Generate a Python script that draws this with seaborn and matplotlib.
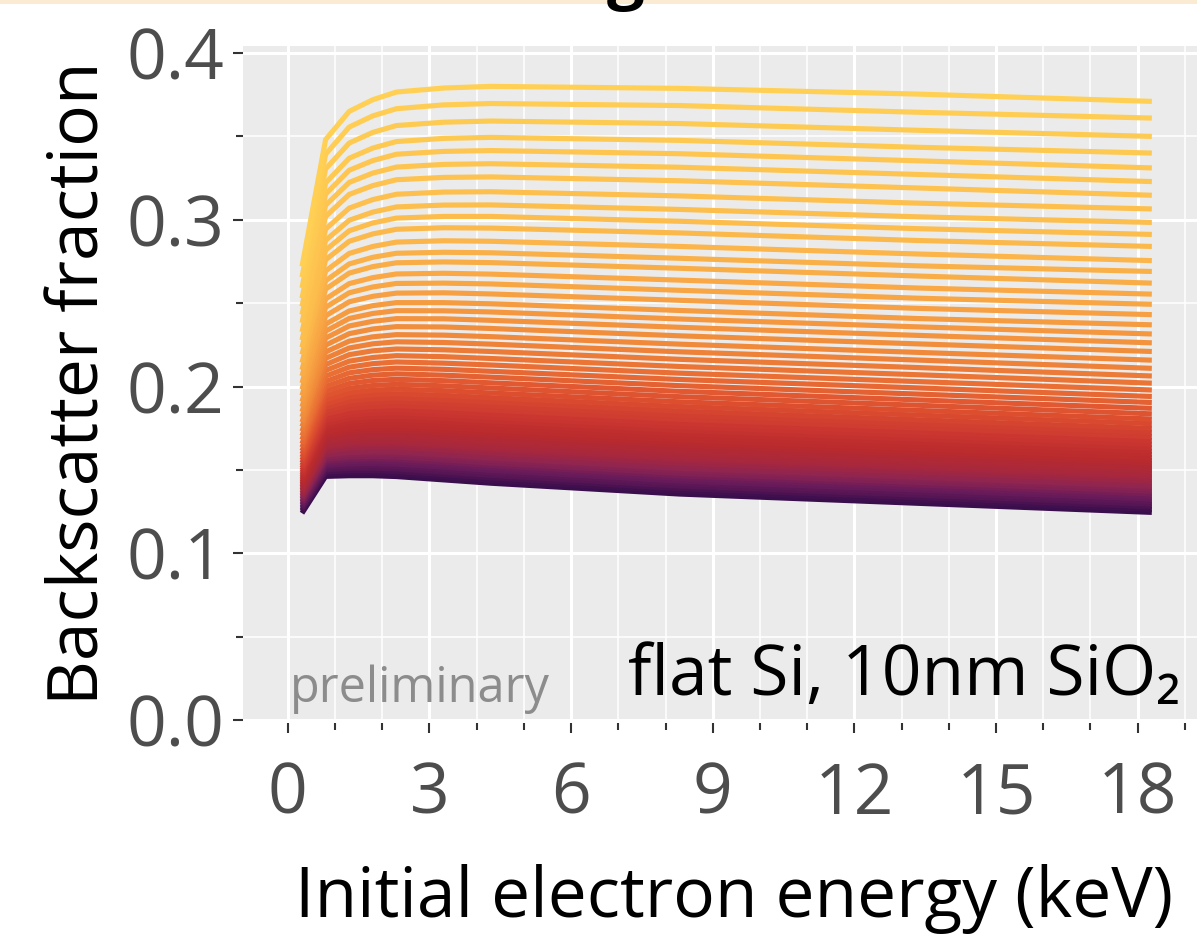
import matplotlib
matplotlib.use("Agg")
import matplotlib.pyplot as plt
from matplotlib.colors import LinearSegmentedColormap
from matplotlib.patches import Rectangle
from matplotlib.ticker import MultipleLocator, FormatStrFormatter
import pandas as pd
import seaborn as sns

energies_kev = [0.3, 0.8, 1.3, 1.8, 2.3, 3.3, 4.3, 8.3, 13.3, 18.3]

# backscatter fraction per curve at each energy, top curve first
eta_0p3 = [0.2720, 0.2656, 0.2591, 0.2529, 0.2480, 0.2431, 0.2382, 0.2327, 0.2278, 0.2235,
           0.2192, 0.2143, 0.2100, 0.2063, 0.2020, 0.1983, 0.1946, 0.1909, 0.1878, 0.1848,
           0.1817, 0.1786, 0.1759, 0.1731, 0.1705, 0.1681, 0.1657, 0.1635, 0.1614, 0.1595,
           0.1576, 0.1559, 0.1543, 0.1527, 0.1512, 0.1498, 0.1485, 0.1472, 0.1460, 0.1448,
           0.1437, 0.1426, 0.1417, 0.1407, 0.1398, 0.1389, 0.1380, 0.1371, 0.1361, 0.1352,
           0.1343, 0.1334, 0.1325, 0.1315, 0.1306, 0.1297, 0.1288, 0.1278, 0.1269, 0.1260,
           0.1251, 0.1240]
eta_0p8 = [0.3481, 0.3393, 0.3305, 0.3221, 0.3154, 0.3087, 0.3020, 0.2944, 0.2877, 0.2818,
           0.2760, 0.2693, 0.2634, 0.2584, 0.2525, 0.2475, 0.2424, 0.2374, 0.2332, 0.2290,
           0.2248, 0.2207, 0.2169, 0.2131, 0.2096, 0.2062, 0.2030, 0.2000, 0.1972, 0.1945,
           0.1920, 0.1896, 0.1874, 0.1853, 0.1833, 0.1813, 0.1795, 0.1777, 0.1761, 0.1745,
           0.1730, 0.1715, 0.1702, 0.1689, 0.1677, 0.1664, 0.1652, 0.1639, 0.1626, 0.1614,
           0.1601, 0.1589, 0.1576, 0.1564, 0.1551, 0.1538, 0.1526, 0.1513, 0.1501, 0.1488,
           0.1476, 0.1461]
eta_1p3 = [0.3650, 0.3556, 0.3460, 0.3369, 0.3297, 0.3224, 0.3152, 0.3070, 0.2997, 0.2934,
           0.2871, 0.2798, 0.2735, 0.2680, 0.2617, 0.2562, 0.2508, 0.2453, 0.2408, 0.2363,
           0.2317, 0.2272, 0.2231, 0.2191, 0.2152, 0.2116, 0.2082, 0.2049, 0.2018, 0.1989,
           0.1962, 0.1937, 0.1912, 0.1890, 0.1868, 0.1847, 0.1827, 0.1808, 0.1790, 0.1773,
           0.1756, 0.1741, 0.1726, 0.1713, 0.1699, 0.1686, 0.1672, 0.1658, 0.1645, 0.1631,
           0.1618, 0.1604, 0.1590, 0.1577, 0.1563, 0.1550, 0.1536, 0.1522, 0.1509, 0.1495,
           0.1482, 0.1465]
eta_1p8 = [0.3720, 0.3623, 0.3524, 0.3430, 0.3355, 0.3280, 0.3205, 0.3121, 0.3046, 0.2981,
           0.2915, 0.2840, 0.2775, 0.2719, 0.2653, 0.2597, 0.2541, 0.2485, 0.2438, 0.2391,
           0.2345, 0.2298, 0.2256, 0.2214, 0.2174, 0.2137, 0.2101, 0.2068, 0.2036, 0.2006,
           0.1978, 0.1952, 0.1926, 0.1903, 0.1880, 0.1859, 0.1838, 0.1819, 0.1800, 0.1782,
           0.1765, 0.1749, 0.1734, 0.1720, 0.1706, 0.1692, 0.1678, 0.1664, 0.1650, 0.1636,
           0.1622, 0.1608, 0.1594, 0.1580, 0.1566, 0.1552, 0.1538, 0.1524, 0.1510, 0.1496,
           0.1482, 0.1465]
eta_2p3 = [0.3766, 0.3666, 0.3565, 0.3469, 0.3393, 0.3316, 0.3240, 0.3153, 0.3077, 0.3010,
           0.2943, 0.2866, 0.2799, 0.2742, 0.2675, 0.2618, 0.2560, 0.2503, 0.2455, 0.2407,
           0.2359, 0.2311, 0.2268, 0.2225, 0.2185, 0.2147, 0.2110, 0.2076, 0.2043, 0.2013,
           0.1984, 0.1957, 0.1931, 0.1908, 0.1885, 0.1863, 0.1842, 0.1821, 0.1802, 0.1784,
           0.1767, 0.1751, 0.1735, 0.1721, 0.1707, 0.1692, 0.1678, 0.1663, 0.1649, 0.1635,
           0.1620, 0.1606, 0.1592, 0.1577, 0.1563, 0.1549, 0.1534, 0.1520, 0.1506, 0.1491,
           0.1477, 0.1460]
eta_3p3 = [0.3790, 0.3689, 0.3585, 0.3488, 0.3410, 0.3332, 0.3254, 0.3166, 0.3088, 0.3020,
           0.2952, 0.2874, 0.2805, 0.2747, 0.2679, 0.2620, 0.2562, 0.2503, 0.2454, 0.2406,
           0.2357, 0.2308, 0.2264, 0.2220, 0.2179, 0.2140, 0.2103, 0.2068, 0.2035, 0.2004,
           0.1975, 0.1947, 0.1921, 0.1897, 0.1873, 0.1851, 0.1829, 0.1809, 0.1789, 0.1771,
           0.1753, 0.1737, 0.1721, 0.1706, 0.1692, 0.1677, 0.1662, 0.1648, 0.1633, 0.1619,
           0.1604, 0.1589, 0.1575, 0.1560, 0.1545, 0.1531, 0.1516, 0.1502, 0.1487, 0.1472,
           0.1458, 0.1440]
eta_4p3 = [0.3800, 0.3697, 0.3592, 0.3494, 0.3415, 0.3336, 0.3257, 0.3168, 0.3089, 0.3020,
           0.2950, 0.2871, 0.2802, 0.2743, 0.2674, 0.2615, 0.2555, 0.2496, 0.2447, 0.2397,
           0.2348, 0.2299, 0.2254, 0.2210, 0.2168, 0.2129, 0.2091, 0.2056, 0.2022, 0.1991,
           0.1961, 0.1933, 0.1907, 0.1882, 0.1858, 0.1835, 0.1814, 0.1793, 0.1773, 0.1754,
           0.1737, 0.1720, 0.1704, 0.1689, 0.1674, 0.1660, 0.1645, 0.1630, 0.1615, 0.1600,
           0.1586, 0.1571, 0.1556, 0.1541, 0.1526, 0.1512, 0.1497, 0.1482, 0.1467, 0.1452,
           0.1437, 0.1420]
eta_8p3 = [0.3788, 0.3685, 0.3577, 0.3476, 0.3396, 0.3315, 0.3234, 0.3143, 0.3062, 0.2991,
           0.2921, 0.2840, 0.2769, 0.2709, 0.2638, 0.2577, 0.2517, 0.2456, 0.2405, 0.2355,
           0.2304, 0.2254, 0.2208, 0.2163, 0.2120, 0.2080, 0.2042, 0.2005, 0.1971, 0.1939,
           0.1908, 0.1880, 0.1853, 0.1827, 0.1803, 0.1780, 0.1758, 0.1737, 0.1716, 0.1697,
           0.1679, 0.1662, 0.1646, 0.1630, 0.1615, 0.1600, 0.1585, 0.1570, 0.1555, 0.1540,
           0.1524, 0.1509, 0.1494, 0.1479, 0.1464, 0.1449, 0.1433, 0.1418, 0.1403, 0.1388,
           0.1373, 0.1355]
eta_13p3 = [0.3754, 0.3645, 0.3537, 0.3435, 0.3354, 0.3272, 0.3191, 0.3100, 0.3018, 0.2947,
            0.2876, 0.2795, 0.2724, 0.2663, 0.2591, 0.2530, 0.2469, 0.2408, 0.2358, 0.2307,
            0.2256, 0.2205, 0.2159, 0.2114, 0.2071, 0.2030, 0.1992, 0.1955, 0.1920, 0.1888,
            0.1857, 0.1829, 0.1801, 0.1776, 0.1752, 0.1728, 0.1706, 0.1685, 0.1664, 0.1645,
            0.1627, 0.1609, 0.1593, 0.1578, 0.1563, 0.1547, 0.1532, 0.1517, 0.1502, 0.1486,
            0.1471, 0.1456, 0.1441, 0.1425, 0.1410, 0.1395, 0.1380, 0.1364, 0.1349, 0.1334,
            0.1319, 0.1300]
eta_18p3 = [0.3710, 0.3610, 0.3500, 0.3400, 0.3311, 0.3229, 0.3147, 0.3065, 0.2984, 0.2912,
            0.2840, 0.2755, 0.2690, 0.2620, 0.2554, 0.2493, 0.2431, 0.2370, 0.2315, 0.2262,
            0.2210, 0.2158, 0.2109, 0.2063, 0.2020, 0.1979, 0.1940, 0.1904, 0.1869, 0.1836,
            0.1805, 0.1777, 0.1749, 0.1724, 0.1699, 0.1676, 0.1653, 0.1632, 0.1611, 0.1592,
            0.1573, 0.1556, 0.1540, 0.1524, 0.1509, 0.1494, 0.1478, 0.1463, 0.1447, 0.1432,
            0.1417, 0.1401, 0.1386, 0.1371, 0.1355, 0.1340, 0.1325, 0.1309, 0.1294, 0.1279,
            0.1263, 0.1245]

x_ticks = [0, 3, 6, 9, 12, 15, 18]
y_ticks = [0.0, 0.1, 0.2, 0.3, 0.4]

columns = [eta_0p3, eta_0p8, eta_1p3, eta_1p8, eta_2p3, eta_3p3, eta_4p3,
           eta_8p3, eta_13p3, eta_18p3]
n_curves = len(eta_4p3)

rows = []
for i in range(n_curves):
    for e, col in zip(energies_kev, columns):
        # bottom curve gets id 1 so the dark ones are drawn first
        rows.append({"curve": n_curves - i, "energy": e, "eta": col[i]})
df = pd.DataFrame(rows)

# colour ramp, keyed by the 4.3 keV level
ramp_levels = [0.142, 0.150, 0.156, 0.162, 0.172, 0.182, 0.196, 0.210, 0.230, 0.260, 0.300, 0.380]
ramp_colors = ["#3A0D4C", "#6A1B5A", "#8C2452", "#A6283F", "#B82A2D", "#C93530",
               "#DD4E2F", "#E86A33", "#F08A3A", "#F8A444", "#FCBC4C", "#FFD054"]
lo, hi = ramp_levels[0], ramp_levels[-1]
cmap = LinearSegmentedColormap.from_list(
    "bs", [((l - lo) / (hi - lo), c) for l, c in zip(ramp_levels, ramp_colors)])
palette = {n_curves - i: cmap((eta_4p3[i] - lo) / (hi - lo)) for i in range(n_curves)}

sns.set_theme(style="darkgrid", rc={"axes.facecolor": "#EBEBEB", "grid.color": "white"})
plt.rcParams["font.family"] = ["Open Sans", "DejaVu Sans"]

fig = plt.figure(figsize=(11.97, 9.43), dpi=100)
fig.patch.set_facecolor("white")
ax = fig.add_axes([0.203, 0.2365, 0.8204, 0.7147])

sns.lineplot(data=df, x="energy", y="eta", hue="curve", palette=palette,
             estimator=None, legend=False, linewidth=3.7, ax=ax,
             solid_capstyle="butt", solid_joinstyle="round")

ax.set_xlim(-0.95, 19.85)
ax.set_ylim(0.0, 0.4042)
ax.set_xticks(x_ticks)
ax.set_yticks(y_ticks)
ax.xaxis.set_minor_locator(MultipleLocator(1))
ax.yaxis.set_minor_locator(MultipleLocator(0.05))
ax.yaxis.set_major_formatter(FormatStrFormatter("%.1f"))

ax.grid(which="major", color="white", linewidth=2.2)
ax.grid(which="minor", color="white", linewidth=1.1)
ax.set_axisbelow(True)

for side in ["top", "right", "left", "bottom"]:
    ax.spines[side].set_visible(False)
ax.spines["bottom"].set_position(("outward", 2))

ax.tick_params(which="both", bottom=True, left=True, direction="out",
               color="#333333", width=1.5)
ax.tick_params(which="major", length=7.5, labelsize=50, labelcolor="#4D4D4D")
ax.tick_params(which="minor", length=5)
ax.tick_params(axis="x", which="major", pad=20)
ax.tick_params(axis="y", which="major", pad=6)

ax.set_xlabel("Initial electron energy (keV)", fontsize=50, color="black", labelpad=24)
ax.set_ylabel("Backscatter fraction", fontsize=50, color="black", labelpad=8)

ax.text(0.04, 0.0108, "preliminary", fontsize=35, color="#8C8C8C",
        ha="left", va="baseline")
ax.text(18.9, 0.015, "flat Si, 10nm SiO₂", fontsize=50, color="black",
        ha="right", va="baseline")

# strip of the title box above the plot (mostly cropped away)
fig.add_artist(Rectangle((0, 1 - 4 / 943), 1, 4 / 943, transform=fig.transFigure,
                         facecolor="#FAEBD2", edgecolor="none", zorder=0))
fig.text(0.523, 1.004, "g", fontsize=48, fontweight="bold", color="black",
         ha="center", va="baseline")

fig.savefig("out.png", dpi=100)
